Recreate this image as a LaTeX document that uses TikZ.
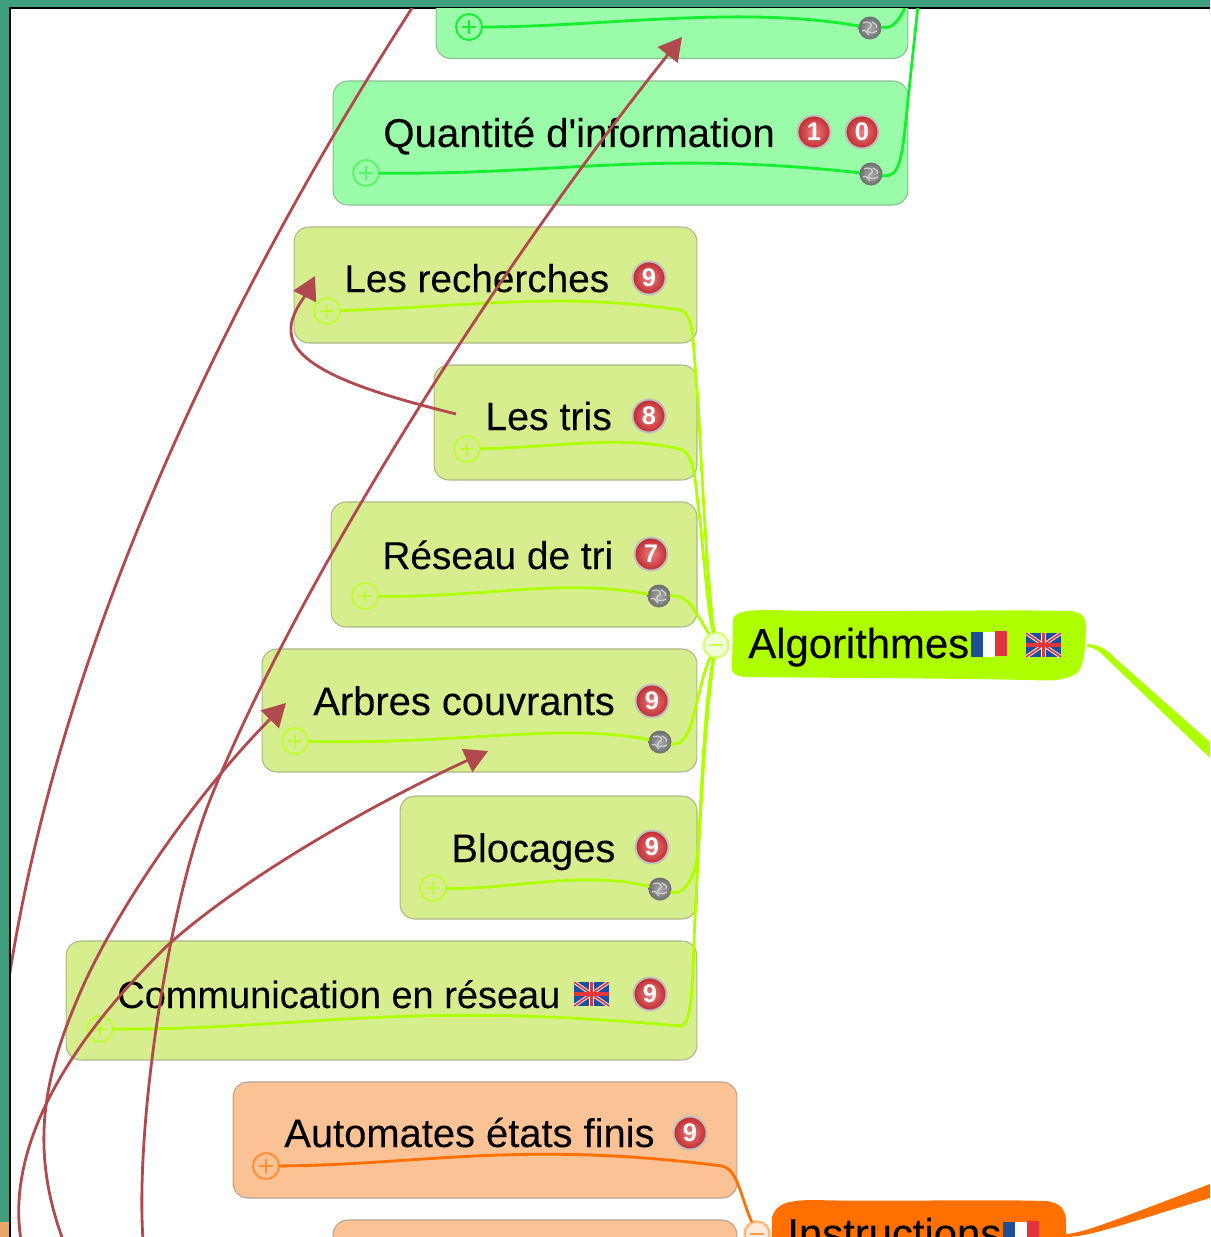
\documentclass[tikz,border=0pt]{standalone}
\usepackage{fontspec}
\setmainfont{Liberation Sans}[Ligatures=TeXOff]
\newfontfamily\labelfont{Liberation Sans}[Ligatures=TeXOff,FakeBold=0.12]
\usetikzlibrary{arrows.meta}
\definecolor{framegreen}{HTML}{3F9E7E}
\definecolor{frameorange}{HTML}{E8A868}
\definecolor{mintbox}{HTML}{9AFBA8}
\definecolor{mintline}{HTML}{14F02E}
\definecolor{limebox}{HTML}{D6EE8E}
\definecolor{limeline}{HTML}{AEFF00}
\definecolor{orangebox}{HTML}{FBC295}
\definecolor{orangeline}{HTML}{FF7000}
\definecolor{linkred}{HTML}{B04A4E}
\definecolor{badgeinner}{HTML}{EE8080}
\definecolor{badgeouter}{HTML}{BE2A2E}
\definecolor{flagblue}{HTML}{1F4E9A}
\definecolor{flagred}{HTML}{E2343A}
\newcommand{\lab}[1]{\labelfont\fontsize{#1}{27}\selectfont}
\tikzset{
  x=0.02cm,y=-0.02cm,
  topicbox/.style={draw=#1!50!gray,line width=0.6pt,rounded corners=0.3cm,inner sep=0pt},
  mint/.style={topicbox=mintbox,fill=mintbox},
  lime/.style={topicbox=limebox,fill=limebox},
  peach/.style={topicbox=orangebox,fill=orangebox},
  label/.style={anchor=base west,inner sep=0pt,text=black},
  badge/.style={circle,minimum size=0.66cm,inner sep=0pt,draw=gray!50,line width=1.1pt,
    inner color=badgeinner,outer color=badgeouter,text=white,font=\bfseries\fontsize{14.5}{15}\selectfont},
  coin/.style={circle,minimum size=0.46cm,inner sep=0pt,inner color=gray!65,outer color=gray!85!black,
    path picture={\draw[white!65!gray,line width=0.7pt,shift={(path picture bounding box.center)}]
      (-7,-5) .. controls (-1,-8) and (5,-3) .. (-1,0) .. controls (-5,3) and (0,7) .. (7,3)
      (-8,3) .. controls (-4,0) and (-3,6) .. (-1,7) (2,-6) .. controls (5,-4) and (8,-3) .. (6,0);}},
  plusknob/.style={circle,minimum size=0.52cm,inner sep=0pt,draw=#1,line width=1.1pt,
    path picture={\draw[#1,line width=0.7pt,shift={(path picture bounding box.center)}]
      (-7,0) -- (7,0) (0,-7) -- (0,7);}},
  minusknob/.style={circle,minimum size=0.5cm,inner sep=0pt,draw=#1!50,line width=1.4pt,fill=white!85!#1,
    path picture={\draw[#1!70,line width=0.7pt,shift={(path picture bounding box.center)}]
      (-7,0) -- (7,0);}},
  branch/.style={draw=#1,line width=1.6pt,line cap=round},
  link/.style={draw=linkred,line width=1.6pt,-{Triangle[length=0.46cm,width=0.5cm]}},
  plainlink/.style={draw=linkred,line width=1.6pt},
}
\newcommand{\frflag}[2]{\begin{scope}[shift={(#1,#2)}]
  \fill[flagblue] (0,0) rectangle (12,25);
  \fill[white] (12,-0.5) rectangle (24,25);
  \fill[flagred] (24,-1) rectangle (36,24);
\end{scope}}
\newcommand{\ukflag}[2]{\begin{scope}[shift={(#1,#2)}]
  \begin{scope}
  \clip (0,0) rectangle (35,24);
  \fill[flagblue] (0,0) rectangle (35,24);
  \draw[white,line width=2pt] (0,0) -- (35,24) (0,24) -- (35,0);
  \draw[flagred,line width=1pt] (0,0) -- (35,24) (0,24) -- (35,0);
  \draw[white,line width=2.8pt] (17.5,0) -- (17.5,24) (0,12) -- (35,12);
  \draw[flagred,line width=1.8pt] (17.5,0) -- (17.5,24) (0,12) -- (35,12);
  \end{scope}
\end{scope}}
\begin{document}
\begin{tikzpicture}
\useasboundingbox (0,0) rectangle (1210,1237);
% window frame
\fill[framegreen] (0,0) rectangle (1210,1237);
\fill[frameorange] (0,1222) rectangle (10,1237);
\fill[black] (9,7) rectangle (1210,1237);
\fill[white] (11,9) rectangle (1210,1237);
\begin{scope}
\clip (11,9) rectangle (1210,1237);
% topic boxes
\node[mint,minimum width=9.44cm,minimum height=2cm] (boxtop) at (672,8.5) {};
\node[mint,minimum width=11.5cm,minimum height=2.48cm] (boxquant) at (620.5,143) {};
\node[lime,minimum width=8.06cm,minimum height=2.32cm] (boxrech) at (495.5,285) {};
\node[lime,minimum width=5.26cm,minimum height=2.3cm] (boxtris) at (565.5,422.5) {};
\node[lime,minimum width=7.32cm,minimum height=2.5cm] (boxres) at (514,564.5) {};
\node[lime,minimum width=8.7cm,minimum height=2.46cm] (boxarb) at (479.5,710.5) {};
\node[lime,minimum width=5.94cm,minimum height=2.46cm] (boxblo) at (548.5,857.5) {};
\node[lime,minimum width=12.62cm,minimum height=2.38cm] (boxcom) at (381.5,1000.5) {};
\node[peach,minimum width=10.08cm,minimum height=2.32cm] (boxaut) at (485,1140) {};
\node[peach,minimum width=8.08cm,minimum height=2.4cm] (boxnext) at (535,1280) {};
% main topics
\fill[limeline] (733,620) .. controls (734,612) and (745,610) .. (770,610)
  .. controls (860,613) and (980,609) .. (1070,611) .. controls (1084,612) and (1087,620) .. (1086,632)
  .. controls (1085,650) and (1084,665) .. (1078,672) .. controls (1068,681) and (1050,681) .. (1030,680)
  .. controls (930,678) and (830,678) .. (745,677) .. controls (733,676) and (730,672) .. (732,660)
  .. controls (733,645) and (732,632) .. (733,620) -- cycle;
\fill[orangeline] (772,1218) .. controls (775,1203) and (790,1200) .. (815,1200)
  .. controls (880,1202) and (980,1199) .. (1045,1201) .. controls (1062,1202) and (1067,1212) .. (1066,1225)
  -- (1066,1240) -- (772,1240) -- cycle;
% thick branches
\fill[limeline] (1087,644) .. controls (1100,645) and (1105,648) .. (1115,658)
  -- (1210,742) -- (1210,758) -- (1108,660) .. controls (1100,652) and (1096,648) .. (1087,647) -- cycle;
\fill[orangeline] (1066,1234) .. controls (1085,1232) and (1100,1226) .. (1210,1184)
  -- (1210,1198) .. controls (1130,1222) and (1090,1237) .. (1066,1237) -- cycle;
% knobs
\node[plusknob=mintline] (pt) at (469,27) {};
\node[plusknob=mintline!70] (pq) at (366,173) {};
\node[plusknob=limeline!80] (pr) at (327,311) {};
\node[plusknob=limeline!80] (pl) at (467,449) {};
\node[plusknob=limeline!80] (ps) at (365,596) {};
\node[plusknob=limeline!80] (pa) at (295,741) {};
\node[plusknob=limeline!80] (pb) at (433,888) {};
\node[plusknob=limeline!80] (pc) at (100,1029) {};
\node[plusknob=orangeline!80] (pu) at (266,1166) {};
\node[coin] (ct) at (870,28) {};
\node[coin] (cq) at (871,174) {};
\node[coin] (cs) at (659,596) {};
\node[coin] (ca) at (660,742) {};
\node[coin] (cb) at (660,889) {};
\node[minusknob=limeline] (mA) at (716,645) {};
\node[minusknob=orangeline] (mI) at (757,1234) {};
\coordinate (outT) at (906,5);
\coordinate (outQ) at (918,5);
% branches
\draw[branch=mintline] (pt) .. controls (600,27) and (740,5) .. (ct);
\draw[branch=mintline] (ct) .. controls (885,27) and (895,32) .. (outT);
\draw[branch=mintline] (pq) .. controls (560,175) and (650,150) .. (cq);
\draw[branch=mintline] (cq) .. controls (900,178) and (902,160) .. (908,100) .. controls (911,70) and (915,35) .. (outQ);
\draw[branch=limeline] (pr) .. controls (480,306) and (560,292) .. (680,310)
  .. controls (695,315) and (692,340) .. (698,400) .. controls (702,480) and (708,590) .. (mA);
\draw[branch=limeline] (pl) .. controls (560,447) and (620,435) .. (680,449)
  .. controls (697,455) and (695,490) .. (700,520) .. controls (704,560) and (708,610) .. (mA);
\draw[branch=limeline] (ps) .. controls (480,598) and (560,578) .. (cs);
\draw[branch=limeline] (cs) .. controls (690,595) and (695,612) .. (mA);
\draw[branch=limeline] (pa) .. controls (460,745) and (560,722) .. (ca);
\draw[branch=limeline] (ca) .. controls (695,748) and (695,690) .. (mA);
\draw[branch=limeline] (pb) .. controls (510,890) and (580,870) .. (cb);
\draw[branch=limeline] (cb) .. controls (680,895) and (695,885) .. (698,850) .. controls (702,780) and (705,700) .. (mA);
\draw[branch=limeline] (pc) .. controls (300,1030) and (400,1000) .. (680,1026)
  .. controls (695,1027) and (692,960) .. (696,900) .. controls (701,800) and (706,710) .. (mA);
\draw[branch=orangeline] (pu) .. controls (420,1165) and (520,1140) .. (722,1166)
  .. controls (738,1170) and (740,1195) .. (mI);
% labels
\node[label,font=\lab{22.85}] (tq) at (383,147) {Quantité d'information};
\node[label,font=\lab{22.05}] (tr) at (344,292) {Les recherches};
\node[label,font=\lab{22.35}] (tl) at (485,430) {Les tris};
\node[label,font=\lab{22.1}] (ts) at (382,569) {Réseau de tri};
\node[label,font=\lab{22.7}] (ta) at (313,715) {Arbres couvrants};
\node[label,font=\lab{22.7}] (tb) at (451,862) {Blocages};
\node[label,font=\lab{21.6}] (tc) at (117,1008) {Communication en réseau};
\node[label,font=\lab{22.7}] (tu) at (284,1147) {Automates états finis};
\node[label,font=\lab{23.8}] (tA) at (748,658) {Algorithmes};
\node[label,font=\lab{23.8}] (tI) at (787,1248) {Instructions};
% flags
\frflag{971}{632}
\ukflag{1026}{633}
\frflag{1003}{1222}
\ukflag{574}{982}
% badges
\node[badge] (b1) at (814,132) {1};
\node[badge] (b0) at (862,132) {0};
\node[badge] (br) at (649,278) {9};
\node[badge] (bl) at (649,416) {8};
\node[badge] (bs) at (651,554) {7};
\node[badge] (ba) at (652,701) {9};
\node[badge] (bb) at (652,847) {9};
\node[badge] (bc) at (650,994) {9};
\node[badge] (bu) at (690,1133) {9};
% cross links
\coordinate (lA) at (21,1240);
\coordinate (lB) at (63,1240);
\coordinate (lC) at (143,1240);
\coordinate (lD) at (414,5);
\coordinate (lDend) at (8,985);
\coordinate (lE) at (456,414);
\coordinate (tipA) at (488,751);
\coordinate (tipB) at (286,703);
\coordinate (tipC) at (682,37);
\coordinate (tipE) at (315,276);
\draw[plainlink] (lD) .. controls (230,290) and (60,640) .. (lDend);
\draw[link] (lA) .. controls (8,1160) and (50,1060) .. (168,945) .. controls (240,880) and (370,805) .. (tipA);
\draw[link] (lB) .. controls (30,1150) and (43,1080) .. (77,1000) .. controls (110,920) and (190,800) .. (tipB);
\draw[link] (lC) .. controls (135,1120) and (170,900) .. (210,800) .. controls (290,600) and (480,290) .. (tipC);
\draw[link] (lE) .. controls (380,395) and (290,370) .. (291,330) .. controls (290,315) and (305,296) .. (tipE);
\end{scope}
\end{tikzpicture}
\end{document}
